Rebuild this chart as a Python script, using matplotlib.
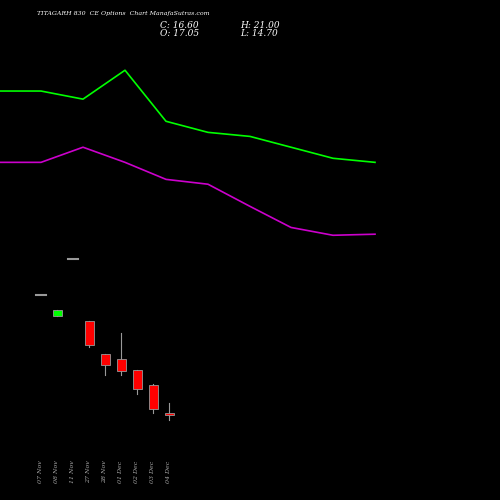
import matplotlib
matplotlib.use("Agg")
import matplotlib.pyplot as plt

# candles
dates = ["07 Nov", "08 Nov", "11 Nov", "27 Nov", "28 Nov", "01 Dec", "02 Dec", "03 Dec", "04 Dec"]
opens = [61.0, 53.1, 74.2, 51.2, 39.0, 37.2, 33.1, 27.5, 17.05]
closes = [61.0, 55.3, 74.2, 42.4, 34.9, 32.7, 26.1, 18.7, 16.60]
highs = [61.0, 55.3, 74.2, 51.2, 39.0, 46.8, 33.1, 27.9, 21.00]
lows = [61.0, 53.1, 74.2, 41.7, 31.2, 31.2, 24.2, 17.2, 14.70]
candle_x = [41, 57, 73, 89, 105, 121, 137, 153, 169]

# moving lines
line_x = [0, 41, 83, 125, 166, 208, 250, 291, 333, 375]
green_line = [136.4, 136.4, 133.4, 144.1, 125.2, 121.1, 119.6, 115.6, 111.5, 110.0]
purple_line = [110.0, 110.0, 115.6, 110.0, 103.7, 101.9, 93.7, 85.9, 83.0, 83.4]

fig = plt.figure(figsize=(5, 5), dpi=100, facecolor="black")
ax = fig.add_axes([0, 0, 1, 1])
ax.set_facecolor("black")
ax.set_xlim(0, 500)
ax.set_ylim(-15.0, 170.1)
ax.axis("off")

ax.plot(line_x, green_line, color="#00ff00", lw=1.2)
ax.plot(line_x, purple_line, color="#cc00cc", lw=1.2)

for x, o, c, h, l in zip(candle_x, opens, closes, highs, lows):
    if o == c:
        ax.plot([x - 5, x + 5], [o, o], color="#999999", lw=1.5)
        continue
    col = "#00ff00" if c > o else "#ff0000"
    ax.plot([x, x], [l, h], color="#999999", lw=0.8, zorder=1)
    ax.bar(x, abs(c - o), bottom=min(o, c), width=9, color=col,
           edgecolor="#999999", linewidth=0.6, zorder=2)

for x, d in zip(candle_x, dates):
    fig.text(x / 500, 0.034, d, rotation=90, color="#aaaaaa", fontsize=4.5,
             family="DejaVu Serif", style="italic", ha="center", va="bottom")

serif = dict(color="white", family="DejaVu Serif", style="italic", va="center")
fig.text(0.074, 0.972, "TITAGARH 830  CE Options  Chart ManafaSutras.com", fontsize=4.5, **serif)
fig.text(0.32, 0.95, "C: 16.60", fontsize=6.5, **serif)
fig.text(0.32, 0.934, "O: 17.05", fontsize=6.5, **serif)
fig.text(0.48, 0.95, "H: 21.00", fontsize=6.5, **serif)
fig.text(0.48, 0.934, "L: 14.70", fontsize=6.5, **serif)

fig.savefig("out.png", dpi=100, facecolor="black")
